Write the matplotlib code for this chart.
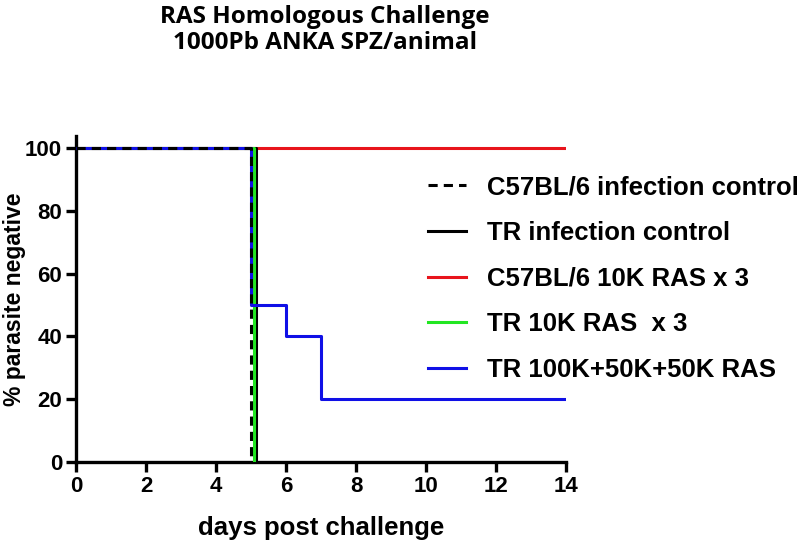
import matplotlib.pyplot as plt

# survival curves (% parasite negative vs days post challenge)
c57_ctrl_days = [0, 5.0, 5.0]
c57_ctrl_vals = [100, 100, 0]
tr_ctrl_days = [0, 5.15, 5.15]
tr_ctrl_vals = [100, 100, 0]
c57_ras_days = [0, 14]
c57_ras_vals = [100, 100]
tr_ras_days = [0, 5.08, 5.08]
tr_ras_vals = [100, 100, 0]
tr_mix_days = [0, 5.0, 6, 7, 14]
tr_mix_vals = [100, 50, 40, 20, 20]

labels = ["C57BL/6 infection control", "TR infection control",
          "C57BL/6 10K RAS x 3", "TR 10K RAS  x 3", "TR 100K+50K+50K RAS"]

plt.rcParams['font.family'] = ['Liberation Sans', 'DejaVu Sans']
plt.rcParams['font.weight'] = 'bold'

fig = plt.figure(figsize=(8, 5.44), dpi=100)
ax = fig.add_axes([0.095, 0.1507, 0.6125, 0.600])

lw = 2.2
l3, = ax.step(c57_ras_days, c57_ras_vals, where='post', color='#e8141c', lw=lw, zorder=2)
l2, = ax.step(tr_ctrl_days, tr_ctrl_vals, where='post', color='black', lw=lw, zorder=3)
l4, = ax.step(tr_ras_days, tr_ras_vals, where='post', color='#22e622', lw=lw, zorder=4)
l5, = ax.step(tr_mix_days, tr_mix_vals, where='post', color='#1010e6', lw=lw, zorder=5)
l1, = ax.step(c57_ctrl_days, c57_ctrl_vals, where='post', color='black', lw=lw,
              ls=(0, (3, 2)), zorder=6)

ax.set_xlim(0, 14)
ax.set_ylim(0, 104)
ax.set_xticks(range(0, 15, 2))
ax.set_yticks(range(0, 101, 20))
for s in ['top', 'right']:
    ax.spines[s].set_visible(False)
for s in ['left', 'bottom']:
    ax.spines[s].set_linewidth(2.4)
ax.tick_params(width=2.4, length=7, labelsize=16, pad=3)
for t in ax.get_xticklabels() + ax.get_yticklabels():
    t.set_fontweight('bold')

ax.set_xlabel("days post challenge", fontsize=18.5, fontweight='bold')
ax.xaxis.set_label_coords(0.5, -0.165)
ax.set_ylabel("% parasite negative", fontsize=16.5, fontweight='bold')
ax.yaxis.set_label_coords(-0.102, 0.5)

leg = fig.legend([l1, l2, l3, l4, l5], labels, loc='upper left',
                 bbox_to_anchor=(0.506, 0.72), frameon=False,
                 prop={'size': 18.5, 'weight': 'bold'}, handlelength=1.5,
                 handletextpad=0.8, labelspacing=0.84)

fig.text(0.406, 0.99, "RAS Homologous Challenge\n1000Pb ANKA SPZ/animal",
         ha='center', va='top', fontsize=17.5, fontweight='bold',
         family=['Open Sans', 'DejaVu Sans'], linespacing=1.08)

fig.savefig("out.png", dpi=100)
